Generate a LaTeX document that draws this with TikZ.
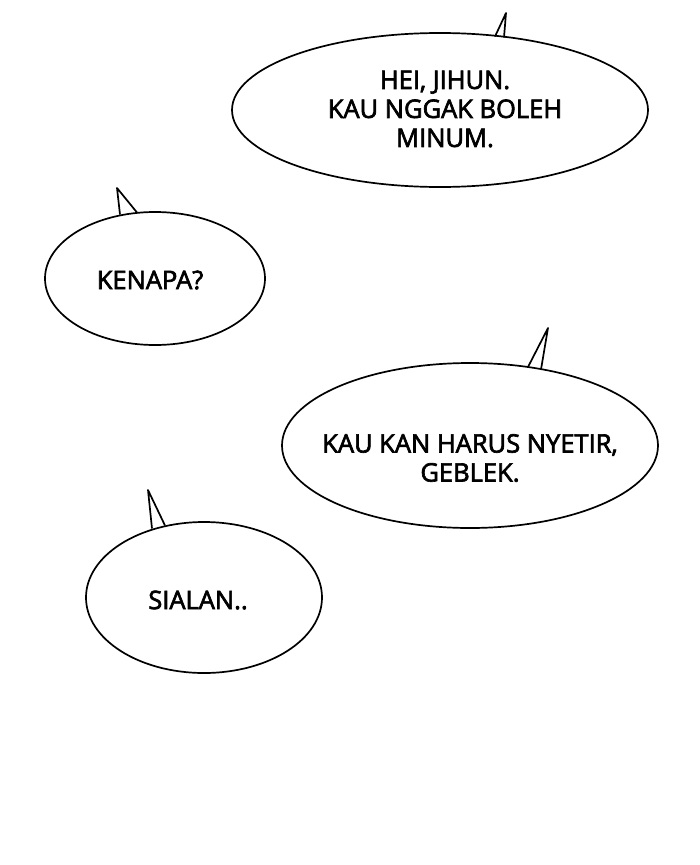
\documentclass[tikz,border=0pt]{standalone}
\usepackage{fontspec}
\setmainfont{Open Sans}[FakeBold=2.6]
\usetikzlibrary{shapes.geometric}
\begin{document}
\begin{tikzpicture}[x=1pt,y=-1pt,
  bubble/.style={ellipse, draw=black, fill=white, line width=1.7pt, inner sep=0pt},
  tailfill/.style={fill=white},
  tailline/.style={draw=black, line width=1.7pt, line join=round},
  talk/.style={font=\fontsize{25.5}{29}\selectfont, align=center, inner sep=0pt}]
\useasboundingbox (0,0) rectangle (700,865);
\fill[white] (0,0) rectangle (700,865);
% bubble 1
\node[bubble, minimum width=416pt, minimum height=154pt] (b1) at (440,110) {};
\coordinate (b1l) at (495,36.5);
\coordinate (b1t) at (506,13);
\coordinate (b1r) at (504,37.5);
\fill[tailfill] (b1l) -- (b1t) -- (b1r) -- ([yshift=5pt]b1r) -- ([yshift=5pt]b1l) -- cycle;
\draw[tailline] (b1l) -- (b1t) -- (b1r);
\node[talk] (t1) at (445,109) {HEI, JIHUN.\\KAU NGGAK BOLEH\\MINUM.};
% bubble 2
\node[bubble, minimum width=220pt, minimum height=133pt] (b2) at (155,278.5) {};
\coordinate (b2l) at (120,214.5);
\coordinate (b2t) at (117,188);
\coordinate (b2r) at (137,212.5);
\fill[tailfill] (b2l) -- (b2t) -- (b2r) -- ([yshift=5pt]b2r) -- ([yshift=5pt]b2l) -- cycle;
\draw[tailline] (b2l) -- (b2t) -- (b2r);
\node[talk] (t2) at (150,280) {KENAPA?};
% bubble 3
\node[bubble, minimum width=376pt, minimum height=165pt] (b3) at (470,445.5) {};
\coordinate (b3l) at (528,367);
\coordinate (b3t) at (548,328);
\coordinate (b3r) at (541,369.5);
\fill[tailfill] (b3l) -- (b3t) -- (b3r) -- ([yshift=5pt]b3r) -- ([yshift=5pt]b3l) -- cycle;
\draw[tailline] (b3l) -- (b3t) -- (b3r);
\node[talk] (t3) at (470,458) {KAU KAN HARUS NYETIR,\\GEBLEK.};
% bubble 4
\node[bubble, minimum width=236pt, minimum height=151pt] (b4) at (204,597.5) {};
\coordinate (b4l) at (152,528.5);
\coordinate (b4t) at (148,490);
\coordinate (b4r) at (165,525.5);
\fill[tailfill] (b4l) -- (b4t) -- (b4r) -- ([yshift=5pt]b4r) -- ([yshift=5pt]b4l) -- cycle;
\draw[tailline] (b4l) -- (b4t) -- (b4r);
\node[talk] (t4) at (198,600) {SIALAN..};
\end{tikzpicture}
\end{document}
